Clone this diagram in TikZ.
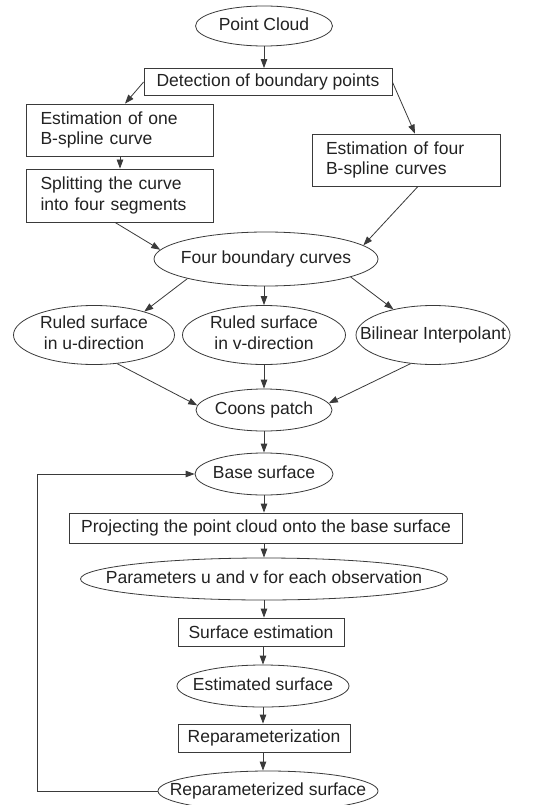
\documentclass[tikz,border=0pt]{standalone}
\usepackage{fontspec}
\setmainfont{Liberation Sans}
\usepackage{tikz}
\usetikzlibrary{shapes.geometric, arrows.meta, positioning, calc}
\definecolor{linegray}{HTML}{3A3A3A}
\definecolor{textgray}{HTML}{222222}
\newcommand{\ovaltext}[1]{\makebox[0pt]{\begin{tabular}{@{}c@{}}#1\end{tabular}}}
\tikzset{
  oval/.style={
    ellipse, draw=linegray, line width=0.8pt,
    inner sep=0pt, text=textgray,
    font=\fontsize{17.5}{20.5}\selectfont,
  },
  procbox/.style={
    rectangle, draw=linegray, line width=0.8pt,
    inner sep=0pt, align=left,
    text=textgray, font=\fontsize{17.5}{20.5}\selectfont,
  },
  arrow/.style={-{Triangle[length=9pt,width=6.5pt]}, line width=0.8pt, color=linegray},
}

\begin{document}
\begin{tikzpicture}[x=1pt,y=-1pt]
  \useasboundingbox[fill=white] (0,0) rectangle (539,805);
  \node[oval,minimum width=137pt,minimum height=40pt] (cloud) at (264,26) {\ovaltext{Point Cloud}};
  \node[procbox,minimum width=248pt,minimum height=27pt] (detect) at (268,82) {Detection of boundary points};
  \node[procbox,text width=159pt,minimum width=187pt,minimum height=52pt] (onecurve) at (120,130) {Estimation of one\\B-spline curve};
  \node[procbox,text width=160pt,minimum width=188pt,minimum height=52pt] (fourcurves) at (406,160) {Estimation of four\\B-spline curves};
  \node[procbox,text width=159pt,minimum width=187pt,minimum height=53pt] (split) at (120,195.5) {Splitting the curve\\into four segments};
  \node[oval,minimum width=224pt,minimum height=54pt] (boundary) at (266,259) {\ovaltext{Four boundary curves}};
  \node[oval,minimum width=161pt,minimum height=59pt] (ruledu) at (94,335) {\ovaltext{Ruled surface\\in u-direction}};
  \node[oval,minimum width=163pt,minimum height=59pt] (ruledv) at (264,335) {\ovaltext{Ruled surface\\in v-direction}};
  \node[oval,minimum width=154pt,minimum height=59pt] (bilinear) at (433,335) {\ovaltext{Bilinear Interpolant}};
  \node[oval,minimum width=136pt,minimum height=42pt] (coons) at (264,410) {\ovaltext{Coons patch}};
  \node[oval,minimum width=138pt,minimum height=42pt] (base) at (264,474) {\ovaltext{Base surface}};
  \node[procbox,minimum width=393pt,minimum height=30pt] (project) at (266,528) {Projecting the point cloud onto the base surface};
  \node[oval,minimum width=367pt,minimum height=42pt] (params) at (264,579) {\ovaltext{Parameters u and v for each observation}};
  \node[procbox,minimum width=166pt,minimum height=28pt] (estimate) at (261,632) {Surface estimation};
  \node[oval,minimum width=172pt,minimum height=42pt] (estsurf) at (263,686) {\ovaltext{Estimated surface}};
  \node[procbox,minimum width=172pt,minimum height=28pt] (reparam) at (264,738) {Reparameterization};
  \node[oval,minimum width=220pt,minimum height=40pt] (repsurf) at (268,791) {\ovaltext{Reparameterized surface}};
  \coordinate (loopcorner) at (37,791);
  % upper part
  \draw[arrow] (cloud.south)--(cloud.south |- detect.north);
  \draw[arrow] (detect.west)--([xshift=5pt]onecurve.north);
  \draw[arrow] (detect.east)--([xshift=9pt]fourcurves.north);
  \draw[arrow] (onecurve.south)--(split.north);
  \draw[arrow] ([xshift=-5pt]split.south)--(boundary.175);
  \draw[arrow] ([xshift=12pt]fourcurves.south)--(boundary.8);
  \draw[arrow] (boundary.194)--(ruledu.25);
  \draw[arrow] (boundary.south -| ruledv)--(ruledv.north);
  \draw[arrow] (boundary.348)--(bilinear.147);
  \draw[arrow] (ruledu.309)--(coons.176);
  \draw[arrow] (ruledv.south)--(coons.north);
  \draw[arrow] (bilinear.232)--(coons.6);
  % lower part
  \draw[arrow] (coons.south)--(base.north);
  \draw[arrow] (base.south)--(base.south |- project.north);
  \draw[arrow] (project.south -| params)--(params.north);
  \draw[arrow] (params.south)--(params.south |- estimate.north);
  \draw[arrow] (estimate.south -| estsurf)--(estsurf.north);
  \draw[arrow] (estsurf.south)--(estsurf.south |- reparam.north);
  \draw[arrow] (reparam.south -| estsurf)--(estsurf |- repsurf.north);
  \draw[arrow] (repsurf.west)--(loopcorner)|-(base.west);
\end{tikzpicture}
\end{document}
